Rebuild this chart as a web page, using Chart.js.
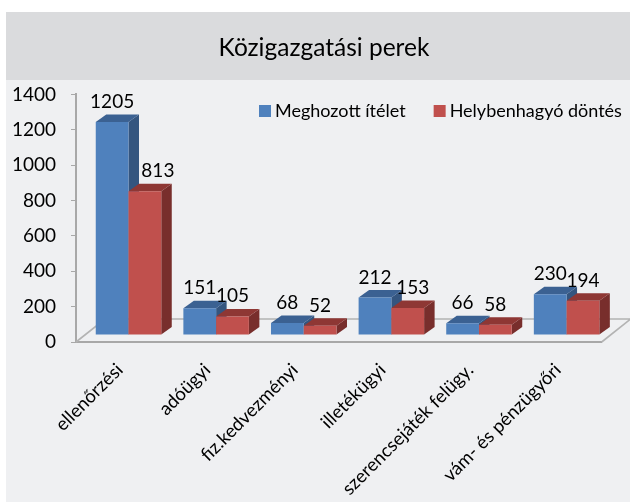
<!DOCTYPE html>
<html><head><meta charset="utf-8">
<style>html,body{margin:0;padding:0;background:#fff}canvas{display:block}</style>
<script src="https://cdn.jsdelivr.net/npm/chart.js@4"></script></head>
<body><canvas id="c" width="630" height="502"></canvas>
<script>
const categories = ['ellenőrzési','adóügyi','fiz.kedvezményi','illetékügyi','szerencsejáték felügy.','vám- és pénzügyőri'];
const seriesNames = ['Meghozott ítélet','Helybenhagyó döntés'];
const meghozott = [1205,151,68,212,66,230];
const helyben = [813,105,52,153,58,194];
const FONT = 'Lato';
const faces = [{front:'#4f81bd',top:'#3b6192',side:'#34557f'},{front:'#c0504d',top:'#8e3734',side:'#782e2c'}];
const labelShift = {'0-1':13,'3-1':5};
const BAR = {dx:8.7,dy:7,depthX:10.5,depthY:7.5};
const FLOOR = {dx:29,dy:23};
const LEGEND_PAD = 33;

const bars3d = {
  id:'bars3d',
  beforeLayout(chart){
    const lg=chart.legend;
    if(lg && !lg.__wrapped){
      const fit=lg.fit.bind(lg);
      lg.fit=function(){fit();lg.height=0;};
      lg.__wrapped=true;
    }
  },
  afterLayout(chart){
    const lg=chart.legend;
    lg.left=264-LEGEND_PAD;lg.right=lg.left+630;lg.top=102-LEGEND_PAD;lg.bottom=lg.top+90;
    chart.titleBlock.left=0;chart.titleBlock.right=648;
  },
  beforeDraw(chart){
    const {ctx,width,height}=chart;
    ctx.save();
    ctx.fillStyle='#fff';ctx.fillRect(0,0,width,height);
    ctx.fillStyle='#eff0f2';ctx.fillRect(6,80,width-6,height-80);
    ctx.fillStyle='#dadbdd';ctx.fillRect(6,12,width-6,68);
    ctx.restore();
  },
  beforeDatasetsDraw(chart){
    const {ctx,chartArea:a}=chart;
    const y0=chart.scales.y.getPixelForValue(0);
    ctx.save();
    ctx.strokeStyle='#b3b3b3';ctx.lineWidth=1.6;
    ctx.beginPath();
    ctx.moveTo(a.left,y0);
    ctx.lineTo(a.left+FLOOR.dx,y0-FLOOR.dy);
    ctx.lineTo(a.right+FLOOR.dx,y0-FLOOR.dy);
    ctx.lineTo(a.right,y0);
    ctx.stroke();
    ctx.translate(BAR.dx,-BAR.dy);
    chart.data.datasets.forEach((ds,i)=>{
      const f=faces[i];
      chart.getDatasetMeta(i).data.forEach(b=>{
        const l=b.x-b.width/2,r=b.x+b.width/2,t=b.y,bt=b.base;
        ctx.fillStyle=f.side;
        ctx.beginPath();ctx.moveTo(r,t);ctx.lineTo(r+BAR.depthX,t-BAR.depthY);ctx.lineTo(r+BAR.depthX,bt-BAR.depthY);ctx.lineTo(r,bt);ctx.closePath();ctx.fill();
        ctx.fillStyle=f.top;
        ctx.beginPath();ctx.moveTo(l,t);ctx.lineTo(l+BAR.depthX,t-BAR.depthY);ctx.lineTo(r+BAR.depthX,t-BAR.depthY);ctx.lineTo(r,t);ctx.closePath();ctx.fill();
        b.draw(ctx);
      });
    });
    ctx.fillStyle='#000';ctx.font='400 19px '+FONT;ctx.textAlign='center';ctx.textBaseline='alphabetic';
    chart.data.datasets.forEach((ds,i)=>{
      chart.getDatasetMeta(i).data.forEach((b,j)=>{
        ctx.fillText(String(ds.data[j]),b.x+(labelShift[j+'-'+i]||0),b.y-14);
      });
    });
    ctx.restore();
    return false;
  }
};
new Chart(document.getElementById('c'),{
  type:'bar',
  data:{labels:categories,datasets:[
    {label:seriesNames[0],data:meghozott,backgroundColor:faces[0].front},
    {label:seriesNames[1],data:helyben,backgroundColor:faces[1].front}]},
  plugins:[bars3d],
  options:{
    responsive:false,animation:false,
    layout:{padding:{left:0,right:28.3,top:0,bottom:0}},
    datasets:{bar:{categoryPercentage:0.7476,barPercentage:1}},
    plugins:{
      tooltip:{enabled:false},
      title:{display:true,text:'Közigazgatási perek',color:'#000',font:{family:FONT,size:24.5,weight:'400'},padding:{top:33,bottom:32}},
      legend:{display:true,position:'top',align:'start',labels:{usePointStyle:true,pointStyle:'rect',boxWidth:2,boxHeight:12,padding:LEGEND_PAD,color:'#000',font:{family:FONT,size:18,weight:'400'}}}
    },
    scales:{
      x:{afterFit(s){s.height=160;},grid:{display:false},border:{display:true,color:'#a8a8a8',width:2},
         ticks:{color:'#000',font:{family:FONT,size:18.5,weight:'400'},minRotation:45,maxRotation:45,padding:9}},
      y:{min:0,max:1400,afterFit(s){s.width=76;},
         grid:{drawOnChartArea:false,drawTicks:true,tickLength:5,color:'#a8a8a8'},border:{display:true,color:'#a8a8a8',width:2},
         ticks:{stepSize:200,color:'#000',padding:15,font:{family:FONT,size:19,weight:'400'},callback:v=>String(v)}}
    }
  }
});
</script></body></html>
